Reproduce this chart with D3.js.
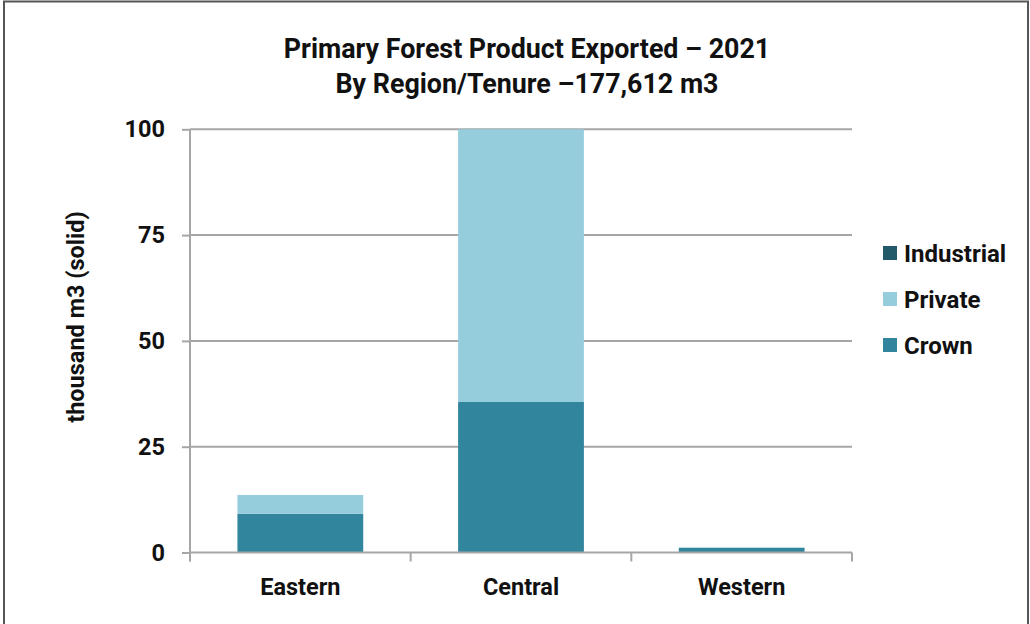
<!DOCTYPE html>
<html>
<head>
<meta charset="utf-8">
<script src="https://cdn.jsdelivr.net/npm/d3@7"></script>
<style>
  html, body { margin: 0; padding: 0; background: #fff; }
  svg { display: block; font-family: Roboto, "Noto Sans", sans-serif; }
</style>
</head>
<body>
<svg id="chart" width="1030" height="624"></svg>
<script>
// Exported primary forest product by region and tenure (thousand m3, solid)
const regions = ["Eastern", "Central", "Western"];
const tenures = ["Crown", "Private", "Industrial"];
const crown = [9.17, 35.56, 1.13];
const privateLand = [4.42, 127.33, 0];
const industrial = [0, 0, 0];
const yTicks = [0, 25, 50, 75, 100];
const legendOrder = ["Industrial", "Private", "Crown"];
const colors = { Crown: "#31859c", Private: "#95cddd", Industrial: "#235a69" };
const titleLines = ["Primary Forest Product Exported \u2013 2021", "By Region/Tenure \u2013177,612 m3"];

const svg = d3.select("#chart");
const W = 1030, H = 624;
const m = { left: 190, right: 852, top: 129.3, bottom: 552.5 };

// outer frame
svg.append("rect")
  .attr("x", 4).attr("y", 1.5).attr("width", W - 6).attr("height", H + 10)
  .attr("fill", "none").attr("stroke", "#555").attr("stroke-width", 2);

const x = d3.scaleBand().domain(regions).range([m.left, m.right]).paddingInner(0.43).paddingOuter(0.215);
const xOuter = d3.scaleBand().domain(regions).range([m.left, m.right]);
const y = d3.scaleLinear().domain([0, 100]).range([m.bottom, m.top]);

// gridlines
svg.append("g").selectAll("line").data(yTicks.filter(d => d > 0)).join("line")
  .attr("x1", m.left).attr("x2", m.right)
  .attr("y1", d => y(d)).attr("y2", d => y(d))
  .attr("stroke", "#a6a6a6").attr("stroke-width", 2);

// stacked bars
const rows = regions.map((r, i) => ({ region: r, Crown: crown[i], Private: privateLand[i], Industrial: industrial[i] }));
const series = d3.stack().keys(tenures)(rows);

svg.append("defs").append("clipPath").attr("id", "plot")
  .append("rect").attr("x", m.left).attr("y", m.top).attr("width", m.right - m.left).attr("height", m.bottom - m.top);

const gBars = svg.append("g").attr("clip-path", "url(#plot)");
gBars.selectAll("g").data(series).join("g")
  .attr("fill", d => colors[d.key])
  .selectAll("rect").data(d => d).join("rect")
  .attr("x", d => x(d.data.region))
  .attr("width", x.bandwidth())
  .attr("y", d => y(d[1]))
  .attr("height", d => Math.max(0, y(d[0]) - y(d[1])));

// y axis
const yAxis = svg.append("g").attr("transform", `translate(${m.left},0)`)
  .call(d3.axisLeft(y).tickValues(yTicks).tickSize(8).tickPadding(17));
yAxis.select(".domain").attr("stroke", "#a6a6a6").attr("stroke-width", 2)
  .attr("d", `M0,${m.top}V${m.bottom + 9}`);
yAxis.selectAll(".tick line").attr("stroke", "#a6a6a6").attr("stroke-width", 2);
yAxis.selectAll("text").attr("font-size", 23.5).attr("font-weight", 700).attr("fill", "#111")
  .attr("font-family", "Roboto, sans-serif");

// x axis with ticks at category boundaries
const xg = svg.append("g");
xg.append("line").attr("x1", m.left).attr("x2", m.right)
  .attr("y1", m.bottom).attr("y2", m.bottom)
  .attr("stroke", "#a6a6a6").attr("stroke-width", 2);
const bounds = regions.map(r => xOuter(r)).concat([m.right]);
xg.selectAll(".xt").data(bounds).join("line")
  .attr("x1", d => d).attr("x2", d => d)
  .attr("y1", m.bottom).attr("y2", m.bottom + 9)
  .attr("stroke", "#a6a6a6").attr("stroke-width", 2);
xg.selectAll("text").data(regions).join("text")
  .attr("x", d => xOuter(d) + xOuter.bandwidth() / 2)
  .attr("y", 595)
  .attr("text-anchor", "middle")
  .attr("font-size", 23.5).attr("font-weight", 700).attr("fill", "#111")
  .text(d => d);

// y axis title
svg.append("text")
  .attr("transform", `translate(84,317) rotate(-90)`)
  .attr("text-anchor", "middle")
  .attr("font-size", 23.5).attr("font-weight", 700).attr("fill", "#111")
  .text("thousand m3 (solid)");

// title
svg.append("g").selectAll("text").data(titleLines).join("text")
  .attr("x", 527).attr("y", (d, i) => 58 + i * 35)
  .attr("text-anchor", "middle")
  .attr("font-size", 26.8).attr("font-weight", 700).attr("fill", "#111")
  .text(d => d);

// legend
const lg = svg.append("g").selectAll("g").data(legendOrder).join("g")
  .attr("transform", (d, i) => `translate(883,${246 + i * 46})`);
lg.append("rect").attr("width", 14).attr("height", 14).attr("fill", d => colors[d]);
lg.append("text").attr("x", 21).attr("y", 16)
  .attr("font-size", 24).attr("font-weight", 700).attr("fill", "#111")
  .text(d => d);
</script>
</body>
</html>
